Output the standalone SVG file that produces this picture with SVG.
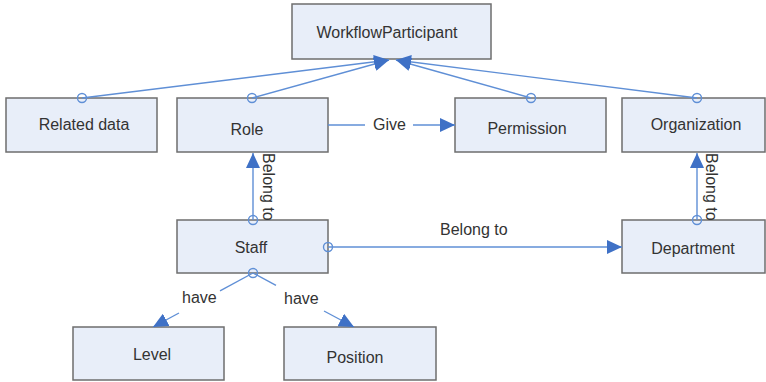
<svg xmlns="http://www.w3.org/2000/svg" width="766" height="382" viewBox="0 0 766 382">
<defs>
<style>
.box{fill:#E8EEF9;stroke:#6E6E6E;stroke-width:1.5}
.lbl{font-family:"Liberation Sans",Arial,sans-serif;font-size:16px;fill:#333333}
.c{text-anchor:middle}
.ln{stroke:#5F8FD6;stroke-width:1.4;fill:none}
.dot{fill:none;stroke:#5F8FD6;stroke-width:1.4}
</style>
<marker id="arr" markerUnits="userSpaceOnUse" markerWidth="16" markerHeight="14" refX="15" refY="7" orient="auto">
<path d="M0,0 L15,7 L0,14 z" fill="#3F71C6"/>
</marker>
</defs>
<rect width="766" height="382" fill="#FFFFFF"/>
<g id="workflowparticipant">
<rect class="box" x="292" y="4" width="199" height="55"/>
<text class="lbl c" x="387" y="38">WorkflowParticipant</text>
</g>
<g id="related-data">
<rect class="box" x="6" y="98" width="151" height="54"/>
<text class="lbl c" x="84" y="130">Related data</text>
</g>
<g id="role">
<rect class="box" x="177" y="98" width="151" height="54"/>
<text class="lbl c" x="247" y="135">Role</text>
</g>
<g id="permission">
<rect class="box" x="455" y="98" width="151" height="54"/>
<text class="lbl c" x="527" y="134">Permission</text>
</g>
<g id="organization">
<rect class="box" x="622" y="98" width="143" height="54"/>
<text class="lbl c" x="696" y="130">Organization</text>
</g>
<g id="staff">
<rect class="box" x="177" y="220" width="151" height="53"/>
<text class="lbl c" x="251" y="253">Staff</text>
</g>
<g id="department">
<rect class="box" x="622" y="220" width="143" height="53"/>
<text class="lbl c" x="693" y="254">Department</text>
</g>
<g id="level">
<rect class="box" x="73" y="327" width="151" height="53"/>
<text class="lbl c" x="152" y="360">Level</text>
</g>
<g id="position">
<rect class="box" x="284" y="327" width="152" height="53"/>
<text class="lbl c" x="355" y="363">Position</text>
</g>
<g id="connectors">
<line class="ln" x1="82" y1="98" x2="389" y2="60" marker-end="url(#arr)"/>
<line class="ln" x1="252" y1="98" x2="389" y2="60" marker-end="url(#arr)"/>
<line class="ln" x1="531" y1="98" x2="396" y2="60" marker-end="url(#arr)"/>
<line class="ln" x1="697" y1="98" x2="396" y2="60" marker-end="url(#arr)"/>
<line class="ln" x1="328" y1="125" x2="365" y2="125"/>
<line class="ln" x1="413" y1="125" x2="455" y2="125" marker-end="url(#arr)"/>
<line class="ln" x1="253" y1="220" x2="253" y2="153" marker-end="url(#arr)"/>
<line class="ln" x1="697" y1="220" x2="697" y2="153" marker-end="url(#arr)"/>
<line class="ln" x1="328" y1="247" x2="622" y2="247" marker-end="url(#arr)"/>
<line class="ln" x1="253" y1="273" x2="220" y2="290.8"/>
<line class="ln" x1="179" y1="313" x2="153" y2="327" marker-end="url(#arr)"/>
<line class="ln" x1="253" y1="273" x2="276" y2="285.3"/>
<line class="ln" x1="324" y1="311" x2="354" y2="327" marker-end="url(#arr)"/>
<circle class="dot" cx="82" cy="98" r="4.5"/>
<circle class="dot" cx="252" cy="98" r="4.5"/>
<circle class="dot" cx="531" cy="98" r="4.5"/>
<circle class="dot" cx="697" cy="98" r="4.5"/>
<circle class="dot" cx="253" cy="220" r="4.5"/>
<circle class="dot" cx="697" cy="220" r="4.5"/>
<circle class="dot" cx="328" cy="247" r="4.5"/>
<circle class="dot" cx="253" cy="273" r="4.5"/>
<text class="lbl" x="373" y="130">Give</text>
<text class="lbl" x="440" y="235">Belong to</text>
<text class="lbl" transform="translate(263,153) rotate(90)">Belong to</text>
<text class="lbl" transform="translate(706,153) rotate(90)">Belong to</text>
<text class="lbl" x="182" y="303">have</text>
<text class="lbl" x="284" y="304">have</text>
</g>
</svg>
